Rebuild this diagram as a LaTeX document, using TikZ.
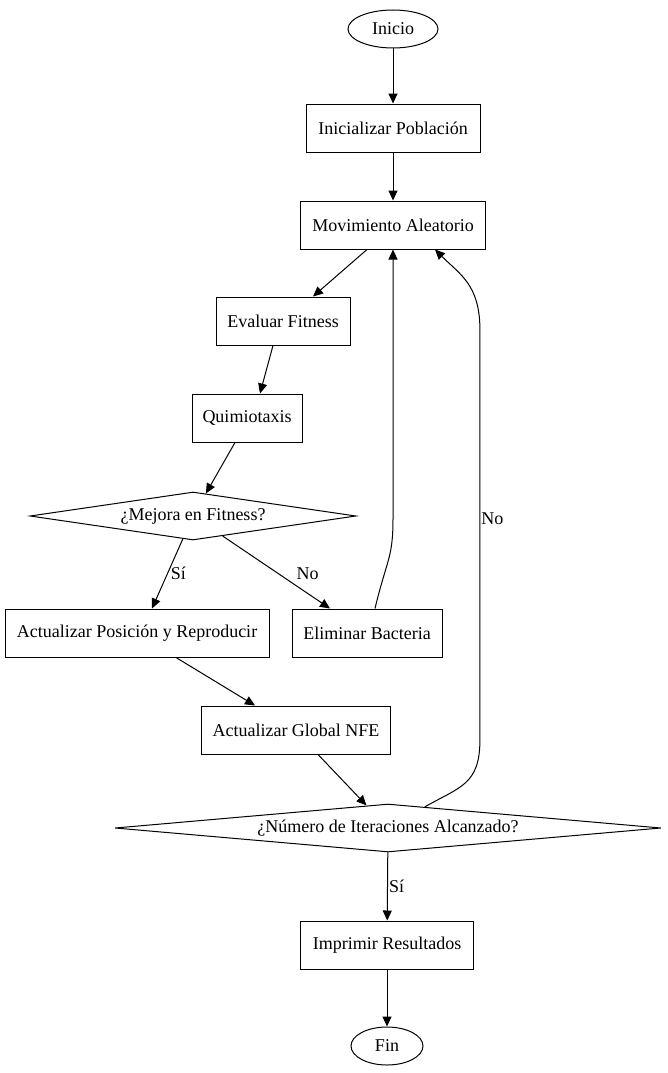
\documentclass[tikz,border=0pt]{standalone}
\usepackage{fontspec}
\setmainfont{Liberation Serif}
\usepackage{tikz}
\usetikzlibrary{arrows.meta, positioning, shapes.geometric, calc}

\begin{document}
\begin{tikzpicture}[
        x=1pt, y=-1pt,
        font=\fontsize{18}{20}\selectfont,
        line width=1pt,
        block/.style={
            draw,
            align=center,
            minimum height=48pt,
            inner sep=2pt
        },
        terminal/.style={
            draw,
            ellipse,
            minimum height=38pt,
            inner sep=1pt
        },
        decision/.style={
            draw,
            diamond,
            inner sep=0pt,
            minimum height=48pt
        },
        arrow/.style={
            -{Triangle[length=10pt, width=9pt]}
        },
        labeltext/.style={
            font=\fontsize{18}{20}\selectfont,
            inner sep=1pt,
            text=black
        }
    ]

    \useasboundingbox (0,0) rectangle (667,1073);

    \node[terminal, minimum width=90pt] (inicio) at (393,29) {Inicio};
    \node[block, minimum width=174pt] (init) at (393,128) {Inicializar Población};
    \node[block, minimum width=185pt] (mov) at (393,225) {Movimiento Aleatorio};
    \node[block, minimum width=134pt] (eval) at (283,321) {Evaluar Fitness};
    \node[block, minimum width=110pt] (quimio) at (247,418) {Quimiotaxis};
    \node[decision, minimum width=326pt, aspect=6.8] (mejora) at (193,516) {¿Mejora en Fitness?};
    \node[block, minimum width=264pt] (act) at (137,633) {Actualizar Posición y Reproducir};
    \node[block, minimum width=150pt] (elim) at (367,633) {Eliminar Bacteria};
    \node[block, minimum width=189pt] (nfe) at (296,730) {Actualizar Global NFE};
    \node[decision, minimum width=546pt, aspect=11.4] (iter) at (388,828) {¿Número de Iteraciones Alcanzado?};
    \node[block, minimum width=173pt] (print) at (387,945) {Imprimir Resultados};
    \node[terminal, minimum width=72pt] (fin) at (387,1046) {Fin};

    \draw[arrow] (inicio) -- (init);
    \draw[arrow] (init) -- (mov);
    \draw[arrow] ([xshift=-26pt]mov.south) -- ([xshift=30pt]eval.north);
    \draw[arrow] ([xshift=-10pt]eval.south) -- ([xshift=13pt]quimio.north);
    \draw[arrow] ([xshift=-12pt]quimio.south) -- (mejora);
    \draw[arrow] (mejora) -- node[labeltext, right=2pt, pos=0.5] {Sí} ([xshift=15pt]act.north);
    \draw[arrow] (mejora) -- node[labeltext, above right=0pt and 6pt, pos=0.62] {No} ([xshift=-37pt]elim.north);
    \draw[arrow] ([xshift=8pt]elim.north) .. controls +(12,-50) and +(0,40) .. ++(18,-90) -- (mov.south);
    \draw[arrow] ([xshift=39pt]act.south) -- ([xshift=-41pt]nfe.north);
    \draw[arrow] ([xshift=22pt]nfe.south) -- (iter);
    \draw[arrow] ($(iter.north)!0.135!(iter.east)$) .. controls +(35,-20) and +(0,45) .. ++(55,-67)
        -- node[labeltext, right=0pt, pos=0.54] {No} ++(0,-410)
        .. controls +(0,-45) and +(25,25) .. ([xshift=42pt]mov.south);
    \draw[arrow] (iter) -- node[labeltext, right=0pt] {Sí} (print);
    \draw[arrow] (print) -- (fin);

\end{tikzpicture}
\end{document}
